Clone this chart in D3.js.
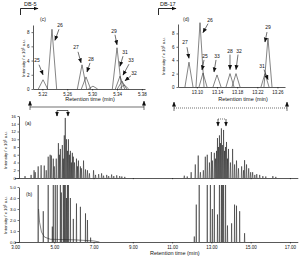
<!DOCTYPE html>
<html><head><meta charset="utf-8">
<script src="https://cdn.jsdelivr.net/npm/d3@7"></script>
<style>
body{margin:0;background:#fff}
svg{display:block}
text{font-family:"Liberation Sans",Arial,sans-serif;fill:#111}
</style>
</head><body>
<svg id="chart" width="300" height="258"></svg>
<script>
// ---------- DATA ----------
// panel (c) DB-5 zoom
const cTimes   = [5.2211, 5.2355, 5.2838, 5.2902, 5.3014, 5.3400, 5.3448, 5.3480, 5.3513];
const cHeights = [1.3, 8.4, 3.4, 1.7, 0.4, 5.8, 1.8, 1.1, 0.6];
const cLabels  = ["25", "26", "27", "28", "", "29", "31", "33", "32"];
const cTicksX  = [5.22, 5.26, 5.30, 5.34, 5.38];
const cTicksY  = [0, 2, 4, 6, 8];
// panel (d) DB-17 zoom
const dTimes   = [13.0843, 13.1062, 13.1122, 13.1400, 13.1658, 13.1777, 13.2353, 13.2412];
const dHeights = [3.7, 9.6, 2.1, 1.8, 2.0, 2.0, 2.0, 7.3];
const dLabels  = ["27", "26", "25", "33", "28", "32", "31", "29"];
const dTicksX  = [13.10, 13.14, 13.18, 13.22, 13.26];
const dTicksY  = [0, 2, 4, 6, 8];
// panel (a) full chromatogram
const aTimes = [3.51,3.82,3.97,4.03,4.18,4.33,4.49,4.59,4.69,4.79,4.85,4.95,5.00,5.10,5.21,5.26,5.31,5.41,5.46,5.51,5.56,5.62,5.67,5.72,5.77,5.82,5.87,5.92,5.97,6.03,6.13,6.18,6.23,6.33,6.38,6.49,6.59,6.69,6.79,7.00,7.10,7.26,7.41,7.51,7.67,7.77,7.92,8.03,8.18,8.33,8.44,8.59,
  11.62,11.77,11.97,12.18,12.33,12.44,12.59,12.69,12.79,12.90,13.00,13.05,13.15,13.21,13.26,13.31,13.36,13.41,13.46,13.51,13.56,13.62,13.67,13.72,13.77,13.82,13.87,13.97,14.08,14.18,14.28,14.38,14.54,14.64,14.69,14.79,14.90,15.00,15.10,15.21,15.31,15.46,15.62,15.77,16.13,16.28];
const aHeights = [0.5,0.8,2.0,1.5,3.0,3.3,3.2,2.0,5.5,6.0,5.8,5.0,3.0,5.0,9.0,6.0,7.5,8.5,5.0,11.0,15.5,10.0,7.0,10.0,6.0,7.0,4.0,6.5,5.5,4.0,5.0,3.0,4.5,3.0,2.5,4.5,2.2,2.0,1.2,2.0,0.8,1.0,1.2,0.6,0.8,0.5,0.9,0.5,0.7,0.5,0.4,0.3,
  0.6,0.4,1.5,3.5,5.8,1.5,2.0,5.5,6.0,4.0,6.7,4.5,6.5,5.0,7.0,10.3,8.0,11.0,9.0,12.8,8.5,12.4,7.0,8.0,9.3,5.0,7.5,4.0,7.5,3.5,4.5,2.5,3.0,2.0,4.6,3.5,2.5,1.5,1.5,0.8,1.0,0.8,0.5,0.4,0.5,0.3];
const aTicksY = [0, 2, 4, 6, 8, 10, 12, 14, 16];
// panel (b) standard mixture
const bTimes = [4.18,4.44,4.69,4.90,4.95,5.05,5.15,5.31,5.36,5.46,5.51,5.56,5.62,5.67,5.72,5.82,5.97,6.13,6.33,6.59,6.69,6.85,
  12.13,12.23,12.38,12.79,12.95,13.05,13.15,13.31,13.41,13.51,13.56,13.62,13.72,13.82,14.03,14.18,14.28,14.44,14.69];
const bHeights = [8,2.8,8,1.4,8,8,8,8,4.5,8,8,8,4.0,8,8,4.0,2.1,3.5,3.2,2.6,2.0,0.4,
  0.5,3.4,8,8,8,3.0,8,2.5,8,8,8,6.0,8,1.5,1.7,3.4,3.3,2.8,0.8];
const bTailTimes  = [4.20, 4.25, 4.35, 4.50, 4.80, 6.00, 7.00, 7.30];
const bTailValues = [3.0, 1.8, 0.9, 0.45, 0.25, 0.2, 0.1, 0.0];
const bTicksY = [0, 1, 2, 3, 4, 5];
const abTicksX = [3, 5, 7, 9, 11, 13, 15, 17];

// ---------- LAYOUT ----------
const svg = d3.select("#chart");
svg.append("rect").attr("width",300).attr("height",258).attr("fill","#fff");
const defs = svg.append("defs");
defs.append("marker").attr("id","ah").attr("viewBox","0 0 10 10").attr("refX",9).attr("refY",5)
  .attr("markerWidth",5).attr("markerHeight",5).attr("orient","auto-start-reverse").attr("markerUnits","userSpaceOnUse")
  .append("path").attr("d","M0,1 L10,5 L0,9 z").attr("fill","#111");
defs.append("clipPath").attr("id","clipB").append("rect").attr("x",17).attr("y",185).attr("width",283).attr("height",60);

const line = d3.line();
function drawPeaks(g, x, y, times, heights, hw, color, sw) {
  g.selectAll(null).data(times).join("path")
    .attr("d", (t,i) => line([[x(t-hw), y(0)], [x(t), y(heights[i])], [x(t+hw), y(0)]]))
    .attr("fill","none").attr("stroke",color).attr("stroke-width",sw).attr("stroke-linejoin","miter");
}
function styleAxis(g, fs) {
  g.selectAll("path").attr("stroke","#111").attr("stroke-width",0.7);
  g.selectAll("line").attr("stroke","#111").attr("stroke-width",0.6);
  g.selectAll("text").attr("font-size",fs).attr("fill","#111").style("font-family","Liberation Sans, Arial, sans-serif");
}
function yLabel(cx, cy, fs) {
  const t = svg.append("text").attr("transform",`translate(${cx},${cy}) rotate(-90)`)
    .attr("text-anchor","middle").attr("font-size",fs);
  t.append("tspan").text("Intensity / x 10");
  t.append("tspan").attr("dy",-1.5).attr("font-size",fs*0.7).text("6");
  t.append("tspan").attr("dy",1.5).text(" a.u.");
}

// ===== panel (c) =====
const xC = d3.scaleLinear().domain([5.205, 5.385]).range([33, 145]);
const yC = d3.scaleLinear().domain([0, 9]).range([89, 25]);
svg.append("g").attr("transform","translate(0,89)")
  .call(d3.axisBottom(xC).tickValues(cTicksX).tickFormat(d3.format(".2f")).tickSize(1.5).tickPadding(2).tickSizeOuter(0))
  .call(g=>styleAxis(g,4.5));
svg.append("g").attr("transform","translate(33,0)")
  .call(d3.axisLeft(yC).tickValues(cTicksY).tickSize(1.5).tickPadding(2).tickSizeOuter(0))
  .call(g=>styleAxis(g,4.5));
drawPeaks(svg.append("g"), xC, yC, cTimes, cHeights, 0.0075, "#333", 0.6);
// annotation offsets (px, relative to apex): label, arrow tail, arrow tip
const cAnn = [[-6,-18,-4,-15,0,-5],[8,-2,7,0,3,11],[-6,-16,-4,-13,-1,-2],[5,-16,4,-14,1,-5],null,[-3,-15,-2,-13,0,-3],[5,-22,3,-20,0,-10],[9,-19,7,-17,1,-6],[10,-10,7,-9,1,-4]];
function annotate(x, y, times, heights, labels, ann) {
  times.forEach((t,i) => {
    const a = ann[i]; if (!a || !labels[i]) return;
    const px = x(t), py = y(heights[i]);
    svg.append("text").attr("x",px+a[0]).attr("y",py+a[1]).attr("text-anchor","middle").attr("font-size",5).text(labels[i]);
    svg.append("line").attr("x1",px+a[2]).attr("y1",py+a[3]).attr("x2",px+a[4]).attr("y2",py+a[5])
      .attr("stroke","#111").attr("stroke-width",0.6).attr("marker-end","url(#ah)");
  });
}
annotate(xC, yC, cTimes, cHeights, cLabels, cAnn);
svg.append("text").attr("x",40).attr("y",21).attr("font-size",5).text("(c)");
svg.append("text").attr("x",90).attr("y",101).attr("text-anchor","middle").attr("font-size",5.5).text("Retention time (min)");
yLabel(25, 58, 4.3);
svg.append("text").attr("x",24).attr("y",6).attr("font-size",5.5).text("DB-5");
svg.append("path").attr("d","M20.5,15 V8.5 H38").attr("fill","none").attr("stroke","#111").attr("stroke-width",0.9).attr("marker-end","url(#ah)");
svg.append("path").attr("d","M30,107 H144").attr("fill","none").attr("stroke","#111").attr("stroke-width",0.6);
svg.append("path").attr("d","M30,110 V101").attr("stroke","#111").attr("stroke-width",0.6).attr("marker-end","url(#ah)");
svg.append("path").attr("d","M144,110 V101").attr("stroke","#111").attr("stroke-width",0.6).attr("marker-end","url(#ah)");

// ===== panel (d) =====
const xD = d3.scaleLinear().domain([13.0625, 13.275]).range([178, 285]);
const yD = d3.scaleLinear().domain([0, 9.4]).range([87, 24]);
svg.append("g").attr("transform","translate(0,87)")
  .call(d3.axisBottom(xD).tickValues(dTicksX).tickFormat(d3.format(".2f")).tickSize(1.5).tickPadding(2).tickSizeOuter(0))
  .call(g=>styleAxis(g,4.5));
svg.append("g").attr("transform","translate(178,0)")
  .call(d3.axisLeft(yD).tickValues(dTicksY).tickSize(1.5).tickPadding(2).tickSizeOuter(0))
  .call(g=>styleAxis(g,4.5));
drawPeaks(svg.append("g"), xD, yD, dTimes, dHeights, 0.008, "#333", 0.6);
const dAnn = [[-4,-18,-2,-15,0,-4],[10,-1,8,1,3,10],[2,-15,1,-13,-1,-3],[0,-17,-1,-15,-3,-3],[0,-21,0,-19,0,-4],[3,-21,2,-19,0,-4],[-3,-6,-1,-4,3,6],[0,-9,-1,-6,-3,4]];
annotate(xD, yD, dTimes, dHeights, dLabels, dAnn);
svg.append("text").attr("x",183).attr("y",21).attr("font-size",5).text("(d)");
svg.append("text").attr("x",243).attr("y",101).attr("text-anchor","middle").attr("font-size",5.5).text("Retention time (min)");
yLabel(165, 56, 4.3);
svg.append("text").attr("x",160).attr("y",6).attr("font-size",5.5).text("DB-17");
svg.append("path").attr("d","M158.5,15 V8.5 H176").attr("fill","none").attr("stroke","#111").attr("stroke-width",0.9).attr("marker-end","url(#ah)");
svg.append("path").attr("d","M174,108 H287").attr("fill","none").attr("stroke","#111").attr("stroke-width",0.6).attr("stroke-dasharray","1,1");
svg.append("path").attr("d","M174,111 V102").attr("stroke","#111").attr("stroke-width",0.6).attr("marker-end","url(#ah)");
svg.append("path").attr("d","M287,111 V102").attr("stroke","#111").attr("stroke-width",0.6).attr("marker-end","url(#ah)");

// ===== panels (a) and (b) =====
const xAB = d3.scaleLinear().domain([3, 17.4]).range([15, 297.8]);
const yA = d3.scaleLinear().domain([0, 16]).range([178, 116]);
const yB = d3.scaleLinear().domain([0, 5]).range([242, 187]);
svg.append("g").attr("transform","translate(0,178)")
  .call(d3.axisBottom(xAB).tickValues(abTicksX).tickFormat("").tickSize(1.2).tickSizeOuter(0))
  .call(g=>styleAxis(g,4.5));
svg.append("g").attr("transform","translate(19,0)")
  .call(d3.axisLeft(yA).tickValues(aTicksY).tickSize(1.5).tickPadding(1.5).tickSizeOuter(0))
  .call(g=>styleAxis(g,4.3));
drawPeaks(svg.append("g"), xAB, yA, aTimes, aHeights, 0.02, "#111", 0.5);
svg.append("text").attr("x",25).attr("y",125).attr("font-size",5).text("(a)");
yLabel(7, 150, 4.3);
// bracket arrows
svg.append("path").attr("d","M57,116 V110.5 H68 V116").attr("fill","none").attr("stroke","#111").attr("stroke-width",0.7).attr("marker-end","url(#ah)");
svg.append("path").attr("d","M57,112 V116").attr("stroke","#111").attr("stroke-width",0.7).attr("marker-end","url(#ah)");
svg.append("path").attr("d","M218,119 H226").attr("fill","none").attr("stroke","#111").attr("stroke-width",0.6).attr("stroke-dasharray","1,1");
svg.append("path").attr("d","M218,119 V126").attr("stroke","#111").attr("stroke-width",0.7).attr("marker-end","url(#ah)");
svg.append("path").attr("d","M226,119 V126").attr("stroke","#111").attr("stroke-width",0.7).attr("marker-end","url(#ah)");

svg.append("g").attr("transform","translate(0,242)")
  .call(d3.axisBottom(xAB).tickValues(abTicksX).tickFormat(d3.format(".2f")).tickSize(1.5).tickPadding(2).tickSizeOuter(0))
  .call(g=>styleAxis(g,4.5));
svg.append("g").attr("transform","translate(19,0)")
  .call(d3.axisLeft(yB).tickValues(bTicksY).tickSize(1.5).tickPadding(1.5).tickSizeOuter(0))
  .call(g=>styleAxis(g,4.3));
const gB = svg.append("g").attr("clip-path","url(#clipB)");
drawPeaks(gB, xAB, yB, bTimes, bHeights, 0.012, "#111", 0.5);
gB.append("path").attr("d", line(bTailTimes.map((t,i)=>[xAB(t), yB(bTailValues[i])])))
  .attr("fill","none").attr("stroke","#222").attr("stroke-width",0.55);
svg.append("text").attr("x",26).attr("y",196).attr("font-size",5).text("(b)");
yLabel(7, 215, 4.3);
svg.append("text").attr("x",150).attr("y",255).attr("font-size",5.5).text("Retention time (min)");
</script>
</body></html>
